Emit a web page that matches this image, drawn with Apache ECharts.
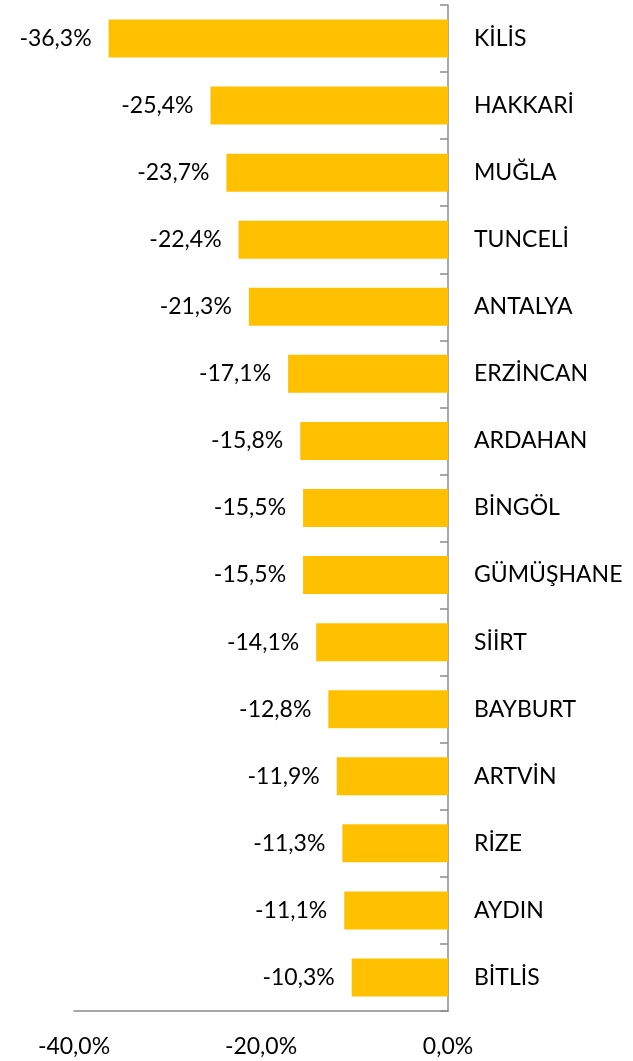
<!DOCTYPE html>
<html>
<head>
<meta charset="utf-8">
<script src="https://cdn.jsdelivr.net/npm/echarts@6/dist/echarts.min.js"></script>
<style>
html,body{margin:0;padding:0;background:#fff;}
#c{width:633px;height:1061px;}
</style>
</head>
<body>
<div id="c"></div>
<script>
const categories = ["KİLİS","HAKKARİ","MUĞLA","TUNCELİ","ANTALYA","ERZİNCAN","ARDAHAN","BİNGÖL","GÜMÜŞHANE","SİİRT","BAYBURT","ARTVİN","RİZE","AYDIN","BİTLİS"];
const values = [-36.3,-25.4,-23.7,-22.4,-21.3,-17.1,-15.8,-15.5,-15.5,-14.1,-12.8,-11.9,-11.3,-11.1,-10.3];
const xTicks = {min:-40, max:0, interval:20};

function pct(v){ return v.toFixed(1).replace('.', ',') + '%'; }

const chart = echarts.init(document.getElementById('c'), null, {renderer:'canvas'});
const font = 'Lato';
chart.setOption({
  animation:false,
  backgroundColor:'#ffffff',
  grid:{left:74, right:185, top:5, bottom:50, containLabel:false},
  xAxis:{
    type:'value', min:xTicks.min, max:xTicks.max, interval:xTicks.interval,
    position:'bottom',
    axisLine:{show:true, onZero:false, lineStyle:{color:'#8c8c8c', width:1.5}},
    axisTick:{show:false},
    splitLine:{show:false},
    axisLabel:{formatter:pct, color:'#000', fontFamily:font, fontSize:23, margin:24}
  },
  yAxis:{
    type:'category', data:categories, inverse:true, position:'right',
    axisLine:{show:true, onZero:false, lineStyle:{color:'#8c8c8c', width:1.5}},
    axisTick:{show:true, inside:true, length:8, lineStyle:{color:'#8c8c8c', width:1.5}},
    axisLabel:{color:'#000', fontFamily:font, fontSize:23, margin:26},
    splitLine:{show:false}
  },
  series:[{
    type:'bar', data:values, barWidth:38,
    itemStyle:{color:'#FFC000'},
    label:{show:true, position:'left', distance:17, formatter:p=>pct(p.value), color:'#000', fontFamily:font, fontSize:23}
  }]
});
</script>
</body>
</html>
